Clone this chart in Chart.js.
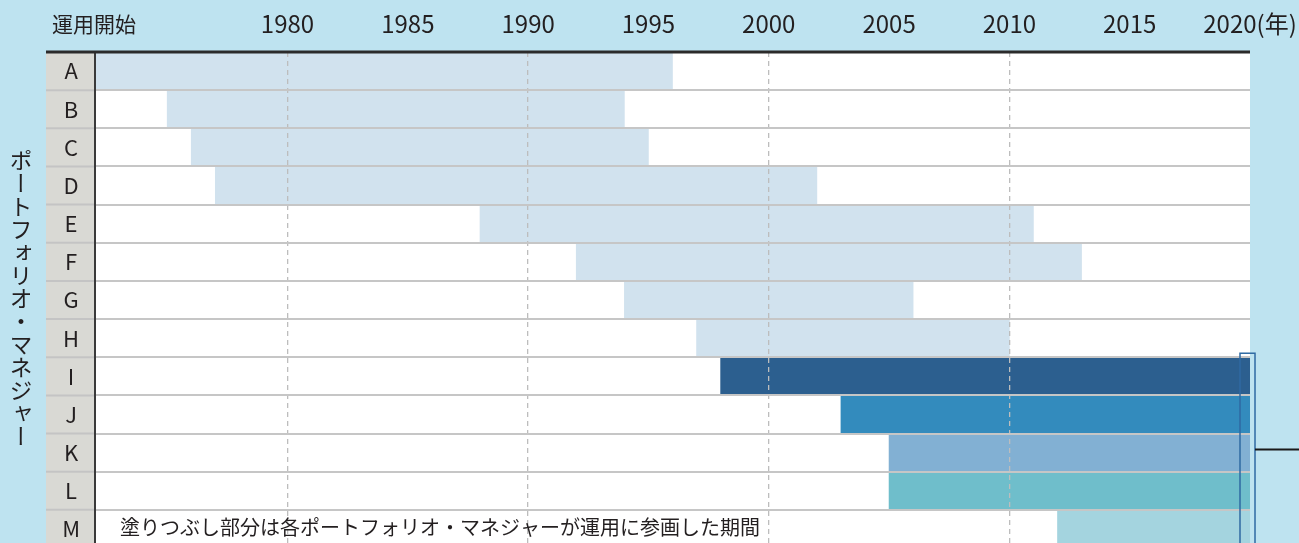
<!DOCTYPE html>
<html lang="ja">
<head>
<meta charset="utf-8">
<title>ポートフォリオ・マネジャー 運用期間</title>
<script src="https://cdn.jsdelivr.net/npm/chart.js@4.4.1/dist/chart.umd.min.js"></script>
<style>
  html, body { margin: 0; padding: 0; background: #bee3f0; overflow: hidden; }
  #wrap { position: relative; width: 1299px; height: 560px; }
  #side {
    position: absolute; left: 9px; top: 149px;
    writing-mode: vertical-rl;
    font-family: "Noto Sans CJK JP", sans-serif;
    font-size: 23px; line-height: 1; color: #231f20;
  }
</style>
</head>
<body>
<div id="wrap">
  <canvas id="chart" width="1299" height="560"></canvas>
  <div id="side">ポートフォリオ・マネジャー</div>
</div>
<script>
// --- data ---
const managers = ["A", "B", "C", "D", "E", "F", "G", "H", "I", "J", "K", "L", "M"];
const startYears = [1972, 1975, 1976, 1977, 1988, 1992, 1994, 1997, 1998, 2003, 2005, 2005, 2012];
const endYears = [1996, 1994, 1995, 2002, 2011, 2013, 2006, 2010, 2020, 2020, 2020, 2020, 2020];
const tickYears = [1980, 1985, 1990, 1995, 2000, 2005, 2010, 2015, 2020];
const gridYears = [1980, 1990, 2000, 2010];
const axisMin = 1972;
const axisMax = 2020;

const headerText = "運用開始";
const noteText = "塗りつぶし部分は各ポートフォリオ・マネジャーが運用に参画した期間";

const FONT = "'Noto Sans CJK JP', sans-serif";
const INK = "#231f20";

const barColors = [
  "#d1e2ee", "#d1e2ee", "#d1e2ee", "#d1e2ee", "#d1e2ee", "#d1e2ee", "#d1e2ee", "#d1e2ee",
  "#2c5f8f", "#338bbd", "#82b0d3", "#6fbecb", "#a4d4df"
];

// scale padding would shrink the plot; the frame is fixed by layout padding instead
function noPadding(s) {
  s.paddingLeft = 0; s.paddingRight = 0; s.paddingTop = 0; s.paddingBottom = 0;
}

// --- decorations: label column, top rule, note, callout ---
const framePlugin = {
  id: "frame",
  beforeDraw(chart) {
    const { ctx, chartArea: a, scales: { y } } = chart;
    const half = (y.getPixelForValue(1) - y.getPixelForValue(0)) / 2;
    ctx.save();
    ctx.fillStyle = "#ffffff";
    ctx.fillRect(a.left, a.top, a.right - a.left, a.bottom - a.top);
    ctx.fillStyle = "#d9d9d4";
    ctx.fillRect(y.left, a.top, a.left - y.left, a.bottom - a.top);
    ctx.strokeStyle = "#c4c4c4";
    ctx.lineWidth = 2;
    managers.forEach((m, i) => {
      const yy = y.getPixelForValue(i) + half;
      ctx.beginPath();
      ctx.moveTo(y.left, yy);
      ctx.lineTo(a.left, yy);
      ctx.stroke();
    });
    ctx.restore();
  },
  afterDraw(chart) {
    const { ctx, chartArea: a, scales: { x, y } } = chart;
    const half = (y.getPixelForValue(1) - y.getPixelForValue(0)) / 2;
    ctx.save();
    // top rule
    ctx.strokeStyle = "#2b2b2b";
    ctx.lineWidth = 3;
    ctx.beginPath();
    ctx.moveTo(y.left, a.top);
    ctx.lineTo(a.right, a.top);
    ctx.stroke();

    // header
    ctx.fillStyle = INK;
    ctx.font = "21px " + FONT;
    ctx.textAlign = "left";
    ctx.textBaseline = "middle";
    ctx.fillText(headerText, y.left + 6, a.top - 28);

    // note inside last row
    ctx.font = "20px " + FONT;
    ctx.fillText(noteText, a.left + 25, y.getPixelForValue(managers.length - 1) - 2);

    // callout on current managers
    const xr = x.getPixelForValue(axisMax);
    const top = y.getPixelForValue(8) - half - 4;
    ctx.strokeStyle = "#2f6aa3";
    ctx.lineWidth = 1.5;
    ctx.strokeRect(xr - 10, top, 15, chart.height - top + 10);
    ctx.strokeStyle = "#1a1a1a";
    ctx.lineWidth = 2;
    const yk = y.getPixelForValue(10) - 3;
    ctx.beginPath();
    ctx.moveTo(xr + 5, yk);
    ctx.lineTo(chart.width, yk);
    ctx.stroke();
    ctx.restore();
  }
};

new Chart(document.getElementById("chart"), {
  type: "bar",
  data: {
    labels: managers,
    datasets: [{
      data: managers.map((m, i) => [startYears[i], endYears[i]]),
      backgroundColor: barColors,
      borderWidth: 0,
      barPercentage: 1,
      categoryPercentage: 1,
    }],
  },
  options: {
    indexAxis: "y",
    responsive: false,
    animation: false,
    layout: { padding: { left: 46, right: 49, top: 0, bottom: 12 } },
    plugins: { legend: { display: false }, tooltip: { enabled: false } },
    scales: {
      x: {
        position: "top",
        min: axisMin,
        max: axisMax,
        afterBuildTicks: (s) => { s.ticks = tickYears.map(v => ({ value: v })); },
        afterFit: (s) => { s.height = 52; noPadding(s); },
        grid: {
          z: 1,
          drawTicks: false,
          lineWidth: 1.3,
          color: (c) => (c.tick && gridYears.includes(c.tick.value)) ? "#bdbdbd" : "rgba(0,0,0,0)",
        },
        border: { display: false, dash: [5, 4] },
        ticks: {
          padding: 14,
          color: INK,
          font: { family: FONT, size: 24 },
          maxRotation: 0,
          autoSkip: false,
          callback: (v) => v === axisMax ? v + "(年)" : String(v),
        },
      },
      y: {
        afterFit: (s) => { s.width = 49; noPadding(s); },
        grid: { z: 1, offset: true, drawTicks: false, color: "#c6c6c6", lineWidth: 2 },
        border: { z: 1, color: "#3a3a3a", width: 2 },
        ticks: {
          crossAlign: "center",
          padding: 15,
          color: INK,
          font: { family: FONT, size: 22 },
        },
      },
    },
  },
  plugins: [framePlugin],
});
</script>
</body>
</html>
